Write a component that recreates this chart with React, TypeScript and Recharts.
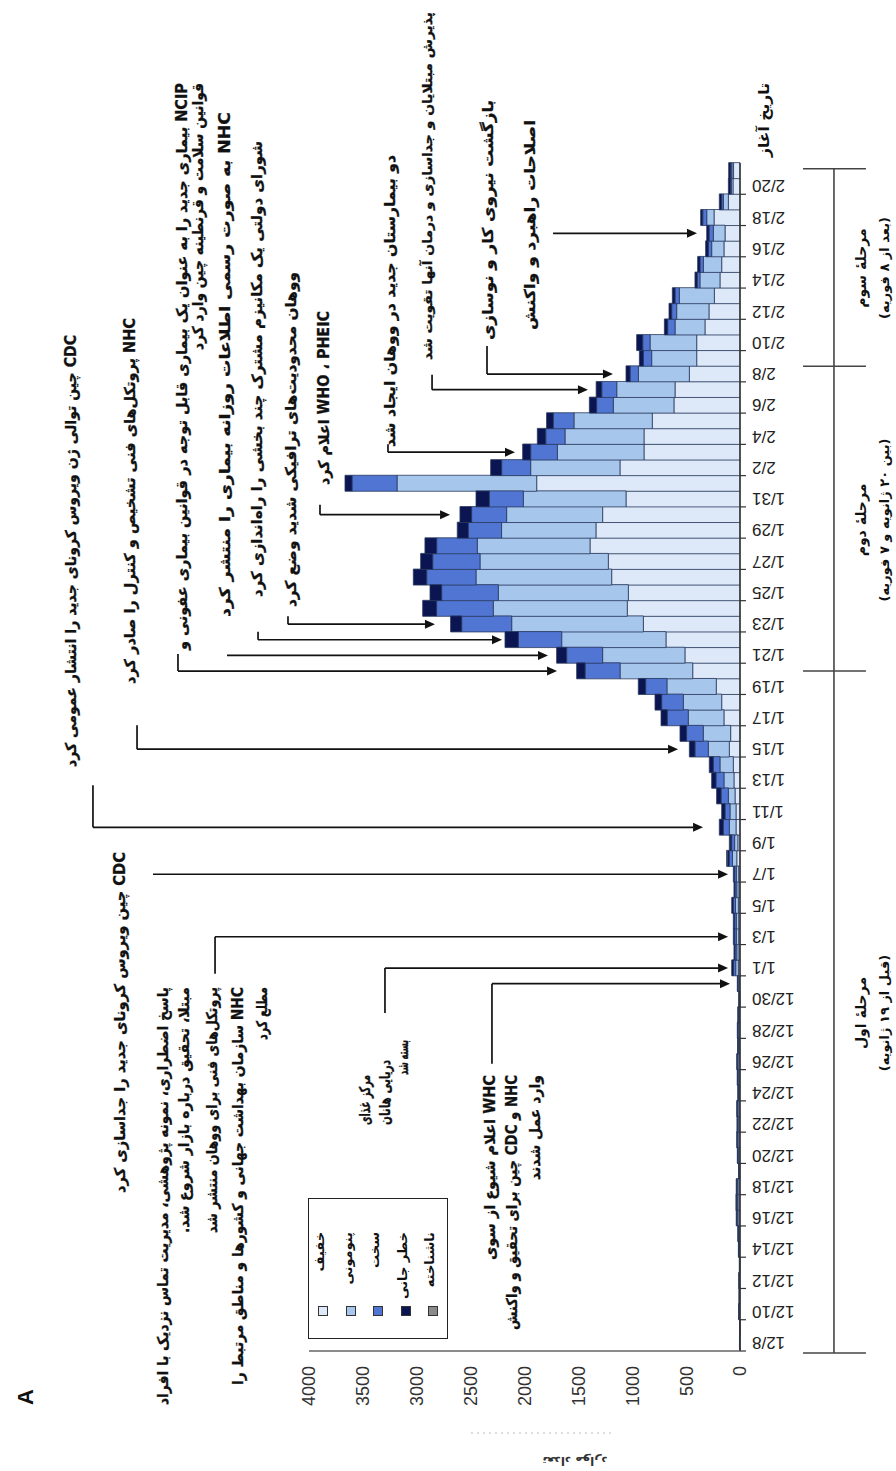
import React from 'react';
import { BarChart, Bar, XAxis, YAxis, ReferenceLine, Legend } from 'recharts';

const dates = [
  '12/8','12/9','12/10','12/11','12/12','12/13','12/14','12/15','12/16','12/17','12/18','12/19','12/20','12/21','12/22','12/23','12/24','12/25','12/26','12/27','12/28','12/29','12/30','12/31',
  '1/1','1/2','1/3','1/4','1/5','1/6','1/7','1/8','1/9','1/10','1/11','1/12','1/13','1/14','1/15','1/16','1/17','1/18','1/19','1/20','1/21','1/22','1/23','1/24','1/25','1/26','1/27','1/28','1/29','1/30','1/31',
  '2/1','2/2','2/3','2/4','2/5','2/6','2/7','2/8','2/9','2/10','2/11','2/12','2/13','2/14','2/15','2/16','2/17','2/18','2/19','2/20','2/21',
];

const mild = [
  2,1,4,3,3,2,5,6,10,11,10,4,8,9,8,9,6,8,9,7,8,6,3,8,
  15,10,12,12,15,10,12,30,20,37,37,46,56,62,99,87,149,170,220,439,511,687,897,1046,1036,1191,1222,1392,1337,1275,1058,
  1887,1114,891,891,814,613,603,470,402,402,325,288,238,186,170,149,139,241,108,65,60,
];
const pneumonia = [
  2,1,4,3,4,2,5,7,12,13,12,4,9,11,10,11,7,9,11,8,9,7,4,9,
  25,20,22,22,27,20,22,40,30,62,56,62,93,124,195,254,331,356,458,674,764,968,1222,1244,1207,1259,1191,1046,876,891,953,
  1296,829,804,733,727,563,541,473,418,433,278,300,325,186,170,114,108,68,46,15,15,
];
const severe = [
  1,1,2,1,2,1,3,4,8,8,8,2,5,6,6,6,4,5,6,4,5,4,2,5,
  20,16,16,16,20,16,16,30,28,56,46,68,74,62,124,155,195,201,198,325,334,402,464,526,526,458,439,377,309,325,316,
  418,269,248,179,192,155,139,77,77,68,68,46,40,25,31,31,40,37,16,8,10,
];
const critical = [
  0,0,2,1,1,1,2,3,5,6,5,2,3,4,4,4,3,4,4,3,3,3,1,3,
  17,10,12,12,15,10,12,18,15,37,31,41,40,37,52,61,58,62,68,78,93,124,103,129,108,124,112,109,102,108,123,
  65,102,74,78,62,67,52,38,37,56,31,25,25,21,22,25,22,19,22,20,20,
];
const unknown = [
  0,0,0,0,0,0,0,0,0,0,0,0,0,0,0,0,0,0,0,0,0,0,0,0,
  0,0,0,0,0,0,0,6,6,0,0,0,0,0,0,0,0,0,0,0,0,0,0,0,0,0,0,0,0,0,0,
  0,0,0,0,0,0,0,0,0,0,0,0,0,0,0,0,0,0,0,0,0,
];

const valueTicks = [0, 500, 1000, 1500, 2000, 2500, 3000, 3500, 4000];
const seriesKeys = ['mild', 'pneumonia', 'severe', 'critical', 'unknown'];
const seriesNames = ['خفیف', 'پنومونی', 'سخت', 'خطر جانی', 'ناشناخته'];
const seriesColors = ['#dde9f8', '#a7c6ec', '#5075d2', '#0b1552', '#8a8a8a'];

// annotation arrows: category, bracket level, arrow tip level (cases), hook length (px along date axis)
const arrowCats = ['12/31', '1/1', '1/3', '1/7', '1/10', '1/15', '1/20', '1/21', '1/22', '1/23', '1/30', '2/3', '2/7', '2/8', '2/17'];
const arrowFrom = [2302, 3295, 4872, 5448, 6005, 5596, 5216, 4761, 4473, 4195, 3898, 3267, 2858, 2348, 1735];
const arrowTo = [93, 111, 111, 111, 343, 575, 1698, 1782, 2209, 2831, 2691, 2088, 1411, 1179, 399];
const arrowHook = [-80, -45, -37, 0, 42, 24, 17, 0, 8, 8, 10, 8, 15, 28, 0];

const rows = dates.map((d, i) => ({
  d,
  mild: mild[i],
  pneumonia: pneumonia[i],
  severe: severe[i],
  critical: critical[i],
  unknown: unknown[i],
}));

// unrotated frame
const W = 1471;
const H = 896;
const MARGIN = { top: 309, right: 163, bottom: 96, left: 60 };
const BAND = (W - MARGIN.left - 60 - MARGIN.right) / dates.length;

const FA = '"DejaVu Sans", sans-serif';
const NUM = '"Liberation Sans", Arial, sans-serif';

// text lines, given in the final (rotated) picture frame: x = column centre, y0..y1 = extent
const noteLines = [
  { t: 'پذیرش مبتلایان و جداسازی و درمان آنها تقویت شد', x: 427, y0: 12, y1: 360, fs: 13 },
  { t: 'دو بیمارستان جدید در ووهان ایجاد شد', x: 390, y0: 155, y1: 447 },
  { t: 'بازگشت نیروی کار و نوسازی', x: 488, y0: 100, y1: 340 },
  { t: 'اصلاحات راهبرد و واکنش', x: 530, y0: 120, y1: 330 },
  { t: 'WHO ، PHEIC اعلام کرد', x: 324, y0: 311, y1: 485 },
  { t: 'ووهان محدودیت‌های ترافیکی شدید وضع کرد', x: 291, y0: 272, y1: 607 },
  { t: 'شورای دولتی یک مکانیزم مشترک چند بخشی را راه‌اندازی کرد', x: 257, y0: 141, y1: 597 },
  { t: 'NHC به صورت رسمی اطلاعات روزانه بیماری را منتشر کرد', x: 225, y0: 112, y1: 617 },
  { t: 'NCIP بیماری جدید را به عنوان یک بیماری قابل توجه در قوانین بیماری عفونی و', x: 182, y0: 83, y1: 650 },
  { t: 'قوانین سلامت و قرنطینه چین وارد کرد', x: 198, y0: 83, y1: 350 },
  { t: 'NHC پروتکل‌های فنی تشخیص و کنترل را صادر کرد', x: 130, y0: 318, y1: 684 },
  { t: 'CDC چین توالی ژن ویروس کرونای جدید را انتشار عمومی کرد', x: 71, y0: 335, y1: 767 },
  { t: 'CDC چین ویروس کرونای جدید را جداسازی کرد', x: 120, y0: 852, y1: 1193 },
  { t: 'پاسخ اضطراری، نمونه پژوهشی، مدیریت تماس نزدیک با افراد', x: 163, y0: 987, y1: 1405 },
  { t: 'مبتلا، تحقیق درباره بازار شروع شد.', x: 184, y0: 987, y1: 1233 },
  { t: 'پروتکل‌های فنی برای ووهان منتشر شد', x: 212, y0: 987, y1: 1233 },
  { t: 'NHC سازمان بهداشت جهانی و کشورها و مناطق مرتبط را', x: 238, y0: 987, y1: 1385 },
  { t: 'مطلع کرد', x: 262, y0: 987, y1: 1040 },
  { t: 'مرکز غذای', x: 365, y0: 1075, y1: 1125 },
  { t: 'دریایی هانان', x: 385, y0: 1060, y1: 1125 },
  { t: 'بسته شد', x: 403, y0: 1040, y1: 1075 },
  { t: 'WHC اعلام شیوع از سوی', x: 490, y0: 1075, y1: 1260 },
  { t: 'NHC و CDC چین برای تحقیق و واکنش', x: 512, y0: 1075, y1: 1330 },
  { t: 'وارد عمل شدند', x: 535, y0: 1075, y1: 1180 },
];

const phaseLabels = [
  { a: 'مرحلهٔ اول', b: '(قبل از ۱۹ ژانویه)', y: 1013 },
  { a: 'مرحلهٔ دوم', b: '(بین ۲۰ ژانویه و ۷ فوریه)', y: 520 },
  { a: 'مرحلهٔ سوم', b: '(بعد از ۸ فوریه)', y: 268 },
];

const arrowShape = (hook: number) => (p: any) => {
  const { x1, y1, x2, y2 } = p;
  const len = Math.hypot(x2 - x1, y2 - y1) || 1;
  const ux = (x2 - x1) / len;
  const uy = (y2 - y1) / len;
  const ah = 10;
  const aw = 4.5;
  const bx = x2 - ux * ah;
  const by = y2 - uy * ah;
  return (
    <g>
      {hook !== 0 && <line x1={x1} y1={y1} x2={x1 + hook} y2={y1} stroke="#111" strokeWidth={1.7} />}
      <line x1={x1} y1={y1} x2={bx} y2={by} stroke="#111" strokeWidth={1.7} />
      <polygon points={`${x2},${y2} ${bx - uy * aw},${by + ux * aw} ${bx + uy * aw},${by - ux * aw}`} fill="#111" />
    </g>
  );
};

const shiftedLine = (d1: number, d2: number) => (p: any) => (
  <line x1={p.x1 + d1} y1={p.y1} x2={p.x2 + d2} y2={p.y2} stroke="#444" strokeWidth={1.6} />
);

const DateTick = (props: any) => {
  const { x, y, payload } = props;
  const tx = x - BAND / 2;
  return (
    <g>
      <line x1={tx} y1={y} x2={tx} y2={y + 6} stroke="#333" strokeWidth={1.2} />
      <text
        x={x}
        y={y}
        dx={-12}
        dy={6}
        transform={`rotate(-90 ${x} ${y})`}
        textAnchor="end"
        fontSize={17}
        fontFamily={NUM}
        fill="#222"
      >
        {payload.value}
      </text>
    </g>
  );
};

const LegendBox = (props: any) => {
  const payload = [...(props.payload || [])].sort(
    (a: any, b: any) => seriesNames.indexOf(a.value) - seriesNames.indexOf(b.value)
  );
  return (
    <div
      style={{
        width: 141,
        height: 140,
        boxSizing: 'border-box',
        border: '1.5px solid #222',
        background: '#fff',
      }}
    >
      {payload.map((it: any, i: number) => (
        <div key={i} style={{ position: 'relative', height: 27.6 }}>
          <div
            style={{
              position: 'absolute',
              left: 22,
              top: 9,
              width: 8,
              height: 8,
              background: it.color,
              border: '1px solid #333',
            }}
          />
          <div
            style={{
              position: 'absolute',
              left: 36,
              width: 70,
              top: 3,
              textAlign: 'right',
              direction: 'rtl',
              fontFamily: FA,
              fontWeight: 'bold',
              fontSize: 13,
              color: '#111',
              whiteSpace: 'nowrap',
            }}
          >
            {it.value}
          </div>
        </div>
      ))}
    </div>
  );
};

export default function App() {
  const bracketV = -872;
  const tickTop = -585;
  const tickBot = -1169;
  return (
    <div style={{ position: 'absolute', left: 0, top: 0, width: 896, height: 1471, overflow: 'hidden', background: '#fff' }}>
      <div
        style={{
          position: 'absolute',
          left: 0,
          top: 0,
          width: W,
          height: H,
          transformOrigin: '0 0',
          transform: `translateY(${W}px) rotate(-90deg)`,
        }}
      >
        <BarChart width={W} height={H} data={rows} margin={MARGIN} barCategoryGap={0} barGap={0}>
          <XAxis
            dataKey="d"
            interval={1}
            tick={<DateTick />}
            tickLine={false}
            tickSize={0}
            tickMargin={0}
            height={60}
            axisLine={{ stroke: '#333', strokeWidth: 1.5 }}
          />
          <YAxis
            type="number"
            domain={[0, 4000]}
            ticks={valueTicks}
            width={60}
            tickLine={false}
            tickSize={6}
            tickMargin={9}
            axisLine={{ stroke: '#666', strokeWidth: 1.3 }}
            tick={{ fontSize: 18, fontFamily: NUM, fill: '#333' }}
            interval={0}
          />
          <Legend
            layout="vertical"
            align="center"
            verticalAlign="middle"
            width={141}
            height={140}
            wrapperStyle={{ left: 132, top: 308, width: 141, height: 140 }}
            content={<LegendBox />}
          />
          {seriesKeys.map((k, i) => (
            <Bar
              key={k}
              dataKey={k}
              name={seriesNames[i]}
              stackId="s"
              fill={seriesColors[i]}
              stroke="#2a3a5e"
              strokeWidth={0.8}
              isAnimationActive={false}
            />
          ))}
          {arrowCats.map((c, i) => (
            <ReferenceLine
              key={'a' + i}
              segment={[{ x: c, y: arrowFrom[i] }, { x: c, y: arrowTo[i] }]}
              ifOverflow="visible"
              shape={arrowShape(arrowHook[i])}
            />
          ))}
          <ReferenceLine
            segment={[{ x: '12/8', y: bracketV }, { x: '2/21', y: bracketV }]}
            ifOverflow="visible"
            shape={shiftedLine(-BAND / 2 - 2, 2)}
          />
          <ReferenceLine
            segment={[{ x: '12/8', y: tickTop }, { x: '12/8', y: tickBot }]}
            ifOverflow="visible"
            shape={shiftedLine(-BAND / 2 - 2, -BAND / 2 - 2)}
          />
          <ReferenceLine
            segment={[{ x: '1/20', y: tickTop }, { x: '1/20', y: tickBot }]}
            ifOverflow="visible"
            shape={shiftedLine(0, 0)}
          />
          <ReferenceLine
            segment={[{ x: '2/8', y: tickTop }, { x: '2/8', y: tickBot }]}
            ifOverflow="visible"
            shape={shiftedLine(BAND / 2, BAND / 2)}
          />
          <ReferenceLine
            segment={[{ x: '2/21', y: tickTop }, { x: '2/21', y: tickBot }]}
            ifOverflow="visible"
            shape={shiftedLine(2, 2)}
          />
        </BarChart>
        <svg
          width={W}
          height={H}
          style={{ position: 'absolute', left: 0, top: 0, pointerEvents: 'none' }}
        >
          {noteLines.map((l, i) => (
            <text
              key={i}
              x={W - (l.y0 + l.y1) / 2}
              y={l.x + 5}
              textAnchor="middle"
              direction="rtl"
              textLength={l.y1 - l.y0}
              lengthAdjust="spacingAndGlyphs"
              fontFamily={FA}
              fontWeight="bold"
              fontSize={l.fs || 15}
              fill="#111"
              stroke="#111"
              strokeWidth={0.3}
            >
              {l.t}
            </text>
          ))}
          {phaseLabels.map((p, i) => (
            <g key={'p' + i}>
              <text x={W - p.y} y={866} textAnchor="middle" direction="rtl" fontFamily={FA} fontWeight="bold" fontSize={14} fill="#111">
                {p.a}
              </text>
              <text x={W - p.y} y={889} textAnchor="middle" direction="rtl" fontFamily={FA} fontWeight="bold" fontSize={13} fill="#111">
                {p.b}
              </text>
            </g>
          ))}
          <text x={W - 120} y={769} textAnchor="middle" direction="rtl" textLength={74} lengthAdjust="spacingAndGlyphs" fontFamily={FA} fontWeight="bold" fontSize={15} fill="#111">
            تاریخ آغاز
          </text>
          <text x={74} y={33} textAnchor="middle" fontFamily={NUM} fontWeight="bold" fontSize={22} fill="#111">
            A
          </text>
          <text
            x={14}
            y={575}
            transform="rotate(-90 14 575)"
            textAnchor="middle"
            direction="rtl"
            fontFamily={FA}
            fontWeight="bold"
            fontSize={12}
            fill="#333"
          >
            تعداد موارد
          </text>
          <line x1={38} y1={471} x2={38} y2={614} stroke="#bbb" strokeWidth={1} strokeDasharray="2 4" />
        </svg>
      </div>
    </div>
  );
}
